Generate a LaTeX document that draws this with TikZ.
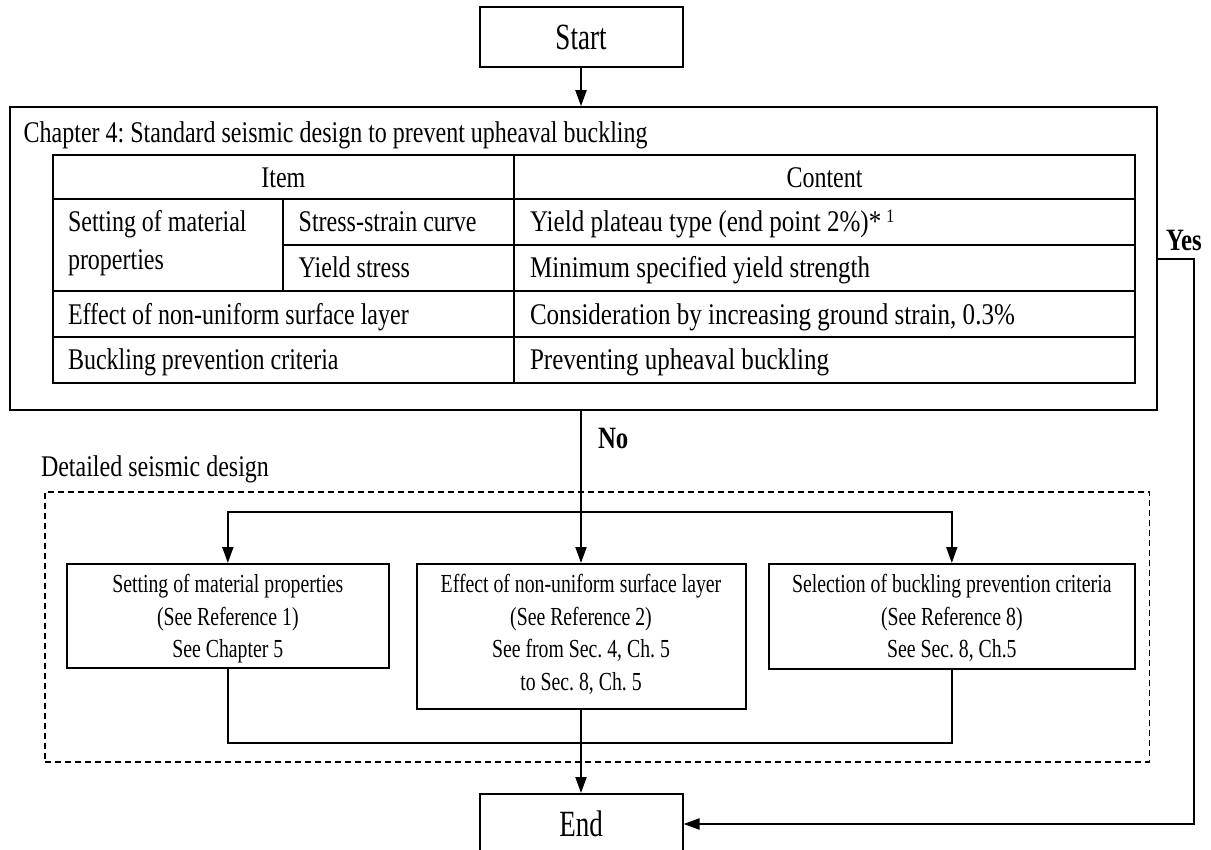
\documentclass[tikz,border=0pt]{standalone}
\usepackage{fontspec}
\setmainfont{Liberation Serif}[FakeStretch=0.8]
\newfontfamily\fBox{Liberation Serif}[FakeStretch=0.76]
\newfontfamily\fTerm{Liberation Serif}[FakeStretch=0.73]
\newfontfamily\fWide{Liberation Serif}[FakeStretch=0.835]
\usetikzlibrary{arrows.meta,calc}
\newcommand\myTab{\fontsize{30}{36}\selectfont}
\newcommand\myTabW{\fWide\fontsize{30}{36}\selectfont}
\newcommand\myBox{\fBox\fontsize{26}{32.5}\selectfont}
\newcommand\myTerm{\fTerm\fontsize{37}{44}\selectfont}
\newcommand\myLbl{\fontsize{31}{36}\selectfont\bfseries}
\frenchspacing
\begin{document}
\begin{tikzpicture}[x=1pt,y=-1pt,line width=2pt,
  >={Triangle[length=16pt,width=11pt]},
  term/.style={draw, minimum width=203pt, minimum height=60pt, inner sep=0pt, font=\myTerm},
  frame/.style={draw, inner sep=0pt},
  txt/.style={inner sep=0pt, font=\myTab},
  wtxt/.style={inner sep=0pt, font=\myTabW},
  btxt/.style={inner sep=0pt, font=\myBox, align=center},
  lbl/.style={inner sep=0pt, font=\myLbl},
  dashbox/.style={draw, inner sep=0pt, line width=1.8pt, dash pattern=on 6pt off 4pt},
]
\useasboundingbox (0,0) rectangle (1211,850);
\clip (0,0) rectangle (1211,850);

% terminals
\node[term] (start) at (581,37.3) {Start};
\node[term] (endn) at (581,824) {End};

% chapter 4 frame
\node[frame, minimum width=1147pt, minimum height=303pt] (main) at (583.5,258.7) {};
\node[txt, anchor=base west] (ch4) at (22.7,143) {Chapter 4: Standard seismic design to prevent upheaval buckling};

% table grid
\draw (52.7,155) rectangle (1135,383);
\draw (52.7,199) -- (1135,199);
\draw (283.3,245) -- (1135,245);
\draw (52.7,291) -- (1135,291);
\draw (52.7,337) -- (1135,337);
\draw (514,155) -- (514,383);
\draw (283.3,199) -- (283.3,291);

% table text
\node[txt, anchor=base] (hitem) at (283.4,188) {Item};
\node[txt, anchor=base] (hcont) at (824.5,188) {Content};
\node[txt, anchor=base west] (set1) at (67,231.7) {Setting of material};
\node[txt, anchor=base west] (set2) at (67,270) {properties};
\node[txt, anchor=base west] (ssc) at (297.7,231.7) {Stress-strain curve};
\node[txt, anchor=base west] (ys) at (297.7,278) {Yield stress};
\node[wtxt, anchor=base west] (ypt) at (529,231.7) {Yield plateau type (end point 2\%)*\,\raisebox{9pt}{\fontsize{19}{19}\selectfont 1}};
\node[wtxt, anchor=base west] (msy) at (529,278) {Minimum specified yield strength};
\node[txt, anchor=base west] (eff) at (67,324.5) {Effect of non-uniform surface layer};
\node[wtxt, anchor=base west] (cons) at (529,324.5) {Consideration by increasing ground strain, 0.3\%};
\node[txt, anchor=base west] (bpc) at (67,370) {Buckling prevention criteria};
\node[wtxt, anchor=base west] (puh) at (529,370) {Preventing upheaval buckling};

% detailed design
\node[txt, anchor=base west] (dsd) at (40,476) {Detailed seismic design};
\node[dashbox, minimum width=1104.5pt, minimum height=270pt] (detail) at (597.25,626.7) {};

\node[frame, minimum width=322.3pt, minimum height=104.3pt] (lbox) at (227.85,616.15) {};
\node[frame, minimum width=329pt, minimum height=145.3pt] (mbox) at (581,636.65) {};
\node[frame, minimum width=365.6pt, minimum height=105.3pt] (rbox) at (951.8,616.65) {};

\node[btxt, anchor=north] (ltxt) at ($(lbox.north)+(0,5.75)$)
  {\strut Setting of material properties\\\strut (See Reference 1)\\\strut See Chapter 5};
\node[btxt, anchor=north] (mtxt) at ($(mbox.north)+(0,5.75)$)
  {\strut Effect of non-uniform surface layer\\\strut (See Reference 2)\\\strut See from Sec. 4, Ch. 5\\\strut to Sec. 8, Ch. 5};
\node[btxt, anchor=north] (rtxt) at ($(rbox.north)+(0,5.75)$)
  {\strut Selection of buckling prevention criteria\\\strut (See Reference 8)\\\strut See Sec. 8, Ch.5};

% labels
\node[lbl, anchor=base west] (no) at (597,448) {No};
\node[lbl, anchor=base west] (yes) at (1165,251) {Yes};

% connectors
\coordinate (split) at (0,511.7);
\coordinate (merge) at (0,742.7);
\coordinate (yturn) at (1193.5,0);
\draw[->] (start.south) -- (start.south |- main.north);
\draw[->] (mbox.north |- main.south) -- (mbox.north);
\draw[<->] (lbox.north) -- (lbox.north |- split) -- (rbox.north |- split) -- (rbox.north);
\draw (lbox.south) -- (lbox.south |- merge) -- (rbox.south |- merge) -- (rbox.south);
\draw[->] (mbox.south) -- (endn.north);
\draw[->] (main.east) -- (main.east -| yturn) -- (yturn |- endn.east) -- (endn.east);
\end{tikzpicture}
\end{document}
